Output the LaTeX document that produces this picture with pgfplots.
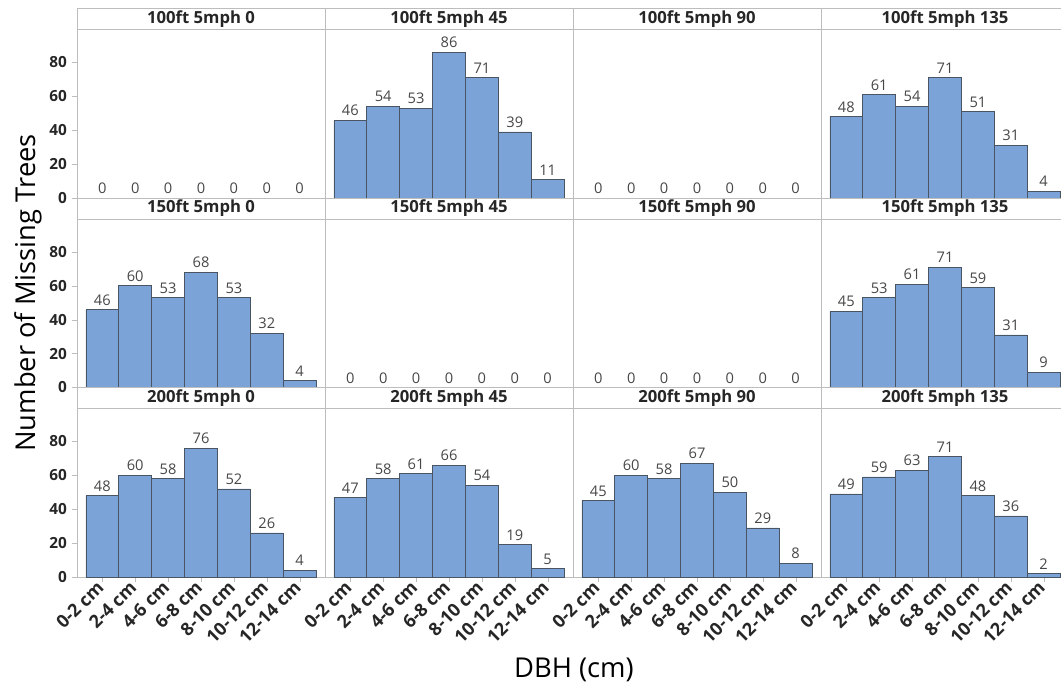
\documentclass[border=0pt]{standalone}
\usepackage{fontspec}
\setmainfont{Open Sans}
\usepackage{pgfplots}
\pgfplotsset{compat=1.18}
\definecolor{barblue}{HTML}{7BA3D7}
\definecolor{baredge}{HTML}{4A5563}
\definecolor{framegray}{HTML}{BDBDBD}
\definecolor{txt}{HTML}{262626}

\pgfplotsset{
  every axis title shift=0pt,
  panel/.style={
    scale only axis, width=186pt, height=142.125pt, anchor=south west,
    xmin=-0.77, xmax=6.77, ymin=0, ymax=111.8,
    axis line style={framegray},
    xtick=\empty, ytick=\empty,
    ybar, bar width=1,
    title style={at={(0.5,0.944)}, anchor=center, yshift=0pt,
      font=\fontsize{12.5}{14}\selectfont\bfseries, text=txt},
    nodes near coords,
    nodes near coords style={font=\fontsize{11}{12}\selectfont, text=txt!85, inner sep=3pt},
    extra y ticks={99.4}, extra y tick labels={},
    extra y tick style={grid=major, major grid style={framegray}, major tick length=0pt},
    tick style={framegray},
    tick align=outside,
    /pgf/number format/assume math mode=true,
  },
  leftcol/.style={
    ytick={0,20,40,60,80}, ytick pos=left, major tick length=4pt,
    yticklabel style={font=\fontsize{11.5}{12}\selectfont\bfseries, text=txt},
  },
  bottomrow/.style={
    xtick={0,...,6}, xtick pos=bottom, major tick length=4pt,
    xticklabels={0-2 cm,2-4 cm,4-6 cm,6-8 cm,8-10 cm,10-12 cm,12-14 cm},
    xticklabel style={rotate=45, anchor=east, inner sep=2pt,
      font=\fontsize{13.5}{14}\selectfont\bfseries, text=txt},
  },
  bars/.style={fill=barblue, draw=baredge, line width=0.5pt},
}

\begin{document}
\begin{tikzpicture}
\useasboundingbox (0,0) rectangle (795.75pt,515.25pt);

% row 1 (100ft)
\begin{axis}[panel, leftcol, at={(57.75pt,366.75pt)}, title={100ft 5mph 0}]
\addplot[bars] coordinates {(0,0) (1,0) (2,0) (3,0) (4,0) (5,0) (6,0)};
\end{axis}
\begin{axis}[panel, at={(243.75pt,366.75pt)}, title={100ft 5mph 45}]
\addplot[bars] coordinates {(0,46) (1,54) (2,53) (3,86) (4,71) (5,39) (6,11)};
\end{axis}
\begin{axis}[panel, at={(429.75pt,366.75pt)}, title={100ft 5mph 90}]
\addplot[bars] coordinates {(0,0) (1,0) (2,0) (3,0) (4,0) (5,0) (6,0)};
\end{axis}
\begin{axis}[panel, at={(615.75pt,366.75pt)}, title={100ft 5mph 135}]
\addplot[bars] coordinates {(0,48) (1,61) (2,54) (3,71) (4,51) (5,31) (6,4)};
\end{axis}

% row 2 (150ft)
\begin{axis}[panel, leftcol, at={(57.75pt,224.625pt)}, title={150ft 5mph 0}]
\addplot[bars] coordinates {(0,46) (1,60) (2,53) (3,68) (4,53) (5,32) (6,4)};
\end{axis}
\begin{axis}[panel, at={(243.75pt,224.625pt)}, title={150ft 5mph 45}]
\addplot[bars] coordinates {(0,0) (1,0) (2,0) (3,0) (4,0) (5,0) (6,0)};
\end{axis}
\begin{axis}[panel, at={(429.75pt,224.625pt)}, title={150ft 5mph 90}]
\addplot[bars] coordinates {(0,0) (1,0) (2,0) (3,0) (4,0) (5,0) (6,0)};
\end{axis}
\begin{axis}[panel, at={(615.75pt,224.625pt)}, title={150ft 5mph 135}]
\addplot[bars] coordinates {(0,45) (1,53) (2,61) (3,71) (4,59) (5,31) (6,9)};
\end{axis}

% row 3 (200ft)
\begin{axis}[panel, leftcol, bottomrow, at={(57.75pt,82.5pt)}, title={200ft 5mph 0}]
\addplot[bars] coordinates {(0,48) (1,60) (2,58) (3,76) (4,52) (5,26) (6,4)};
\end{axis}
\begin{axis}[panel, bottomrow, at={(243.75pt,82.5pt)}, title={200ft 5mph 45}]
\addplot[bars] coordinates {(0,47) (1,58) (2,61) (3,66) (4,54) (5,19) (6,5)};
\end{axis}
\begin{axis}[panel, bottomrow, at={(429.75pt,82.5pt)}, title={200ft 5mph 90}]
\addplot[bars] coordinates {(0,45) (1,60) (2,58) (3,67) (4,50) (5,29) (6,8)};
\end{axis}
\begin{axis}[panel, bottomrow, at={(615.75pt,82.5pt)}, title={200ft 5mph 135}]
\addplot[bars] coordinates {(0,49) (1,59) (2,63) (3,71) (4,48) (5,36) (6,2)};
\end{axis}

\node[rotate=90, font=\fontsize{20.5}{24}\selectfont, text=black] at (21pt,295.5pt) {Number of Missing Trees};
\node[font=\fontsize{20.5}{24}\selectfont, text=black] at (430.5pt,12.75pt) {DBH (cm)};
\end{tikzpicture}
\end{document}
